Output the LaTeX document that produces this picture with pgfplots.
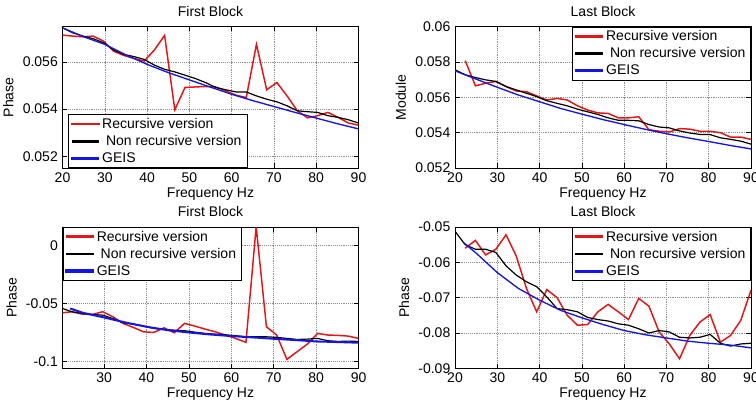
\documentclass[border=0pt]{standalone}
\usepackage{fontspec}
\setmainfont{Liberation Sans}
\usepackage{pgfplots}
\pgfplotsset{compat=1.18}

\definecolor{mred}{RGB}{230,20,20}
\definecolor{mblue}{RGB}{20,20,230}

\pgfplotsset{
  legend image code/.code={\fill[#1] (0pt,-0.55pt) rectangle (20pt,0.55pt);},
  panel/.style={
    scale only axis,
    width=222pt, height=106pt,
    anchor=south west,
    xmin=20, xmax=90,
    xtick={20,30,...,90},
    grid=major,
    grid style={densely dotted, black!45},
    tick align=inside,
    major tick length=3.5pt,
    tick style={black, thin},
    axis line style={black, thin},
    /pgf/number format/assume math mode=true,
    scaled y ticks=false,
    yticklabel style={/pgf/number format/fixed, /pgf/number format/precision=3},
    tick label style={font=\fontsize{10.5}{12}\selectfont},
    label style={font=\fontsize{10.5}{12}\selectfont},
    title style={font=\fontsize{10.5}{12}\selectfont, yshift=-2pt},
    xlabel={Frequency Hz},
    xlabel style={yshift=3pt},
    clip=true,
    legend style={font=\fontsize{10.5}{11}\selectfont, draw=black,
      inner xsep=2pt, inner ysep=0.8pt,
      nodes={inner ysep=1.9pt}},
    legend cell align=left,
  },
  rec/.style={color=mred, line width=1.1pt},
  nonrec/.style={color=black, line width=0.9pt},
  geis/.style={color=mblue, line width=1pt},
}

\begin{document}
\begin{tikzpicture}
\path[use as bounding box] (0,0) rectangle (567pt,303.75pt);

% top left
\begin{axis}[panel, at={(46.9pt,177.75pt)},
  ymin=0.0515, ymax=0.0575, ytick={0.052,0.054,0.056},
  title={First Block}, ylabel={Phase},
  legend style={at={(0.02,0)}, anchor=south west}]
\addplot[rec] coordinates {
(20,0.05714)(22.41,0.05710)(24.83,0.05707)(27.24,0.05710)(29.66,0.05689)
(32.07,0.05646)(34.48,0.05628)(36.90,0.05615)(39.31,0.05604)(41.72,0.05651)
(44.14,0.05713)(46.55,0.05397)(48.97,0.05492)(51.38,0.05494)(53.79,0.05496)
(56.21,0.05494)(58.62,0.05477)(61.03,0.05459)(63.45,0.05449)(65.86,0.05675)
(68.28,0.05482)(70.69,0.05513)(73.10,0.05456)(75.52,0.05393)(77.93,0.05363)
(80.34,0.05372)(82.76,0.05386)(85.17,0.05365)(87.59,0.05341)(90,0.05332)};
\addlegendentry{Recursive version}
\addplot[nonrec] coordinates {
(20,0.05745)(22.41,0.05724)(24.83,0.05710)(27.24,0.05699)(29.66,0.05682)
(32.07,0.05651)(34.48,0.05632)(36.90,0.05623)(39.31,0.05611)(41.72,0.05587)
(44.14,0.05569)(46.55,0.05558)(48.97,0.05544)(51.38,0.05530)(53.79,0.05513)
(56.21,0.05492)(58.62,0.05482)(61.03,0.05473)(63.45,0.05473)(65.86,0.05456)
(68.28,0.05442)(70.69,0.05431)(73.10,0.05414)(75.52,0.05393)(77.93,0.05389)
(80.34,0.05386)(82.76,0.05372)(85.17,0.05365)(87.59,0.05355)(90,0.05341)};
\addlegendentry{\ Non recursive version}
\addplot[geis] coordinates {
(20,0.05745)(25,0.05707)(30,0.05675)(35,0.05630)(40,0.05590)(45,0.05555)
(50,0.05524)(55,0.05493)(60,0.05463)(65,0.05436)(70,0.05411)(75,0.05386)
(80,0.05362)(85,0.05338)(90,0.05316)};
\addlegendentry{GEIS}
\end{axis}

% top right
\begin{axis}[panel, at={(341.25pt,177.75pt)},
  ymin=0.052, ymax=0.06, ytick={0.052,0.054,...,0.0601},
  title={Last Block}, ylabel={Module},
  legend style={at={(1,1)}, anchor=north east}]
\addplot[rec] coordinates {
(22.41,0.05808)(24.83,0.05665)(27.24,0.05680)(29.66,0.05690)(32.07,0.05661)
(34.48,0.05636)(36.90,0.05632)(39.31,0.05608)(41.72,0.05585)(44.14,0.05594)
(46.55,0.05585)(48.97,0.05552)(51.38,0.05528)(53.79,0.05512)(56.21,0.05509)
(58.62,0.05484)(61.03,0.05484)(63.45,0.05490)(65.86,0.05417)(68.28,0.05408)
(70.69,0.05404)(73.10,0.05423)(75.52,0.05420)(77.93,0.05408)(80.34,0.05408)
(82.76,0.05400)(85.17,0.05375)(87.59,0.05375)(90,0.05362)};
\addlegendentry{Recursive version}
\addplot[nonrec] coordinates {
(20,0.05756)(22.41,0.05728)(24.83,0.05712)(27.24,0.05699)(29.66,0.05690)
(32.07,0.05661)(34.48,0.05642)(36.90,0.05623)(39.31,0.05604)(41.72,0.05581)
(44.14,0.05566)(46.55,0.05552)(48.97,0.05533)(51.38,0.05518)(53.79,0.05503)
(56.21,0.05484)(58.62,0.05470)(61.03,0.05470)(63.45,0.05467)(65.86,0.05446)
(68.28,0.05432)(70.69,0.05427)(73.10,0.05410)(75.52,0.05398)(77.93,0.05390)
(80.34,0.05389)(82.76,0.05371)(85.17,0.05362)(87.59,0.05352)(90,0.05335)};
\addlegendentry{\ Non recursive version}
\addplot[geis] coordinates {
(20,0.05750)(25,0.05703)(30,0.05657)(35,0.05613)(40,0.05575)(45,0.05537)
(50,0.05505)(55,0.05474)(60,0.05446)(65,0.05419)(70,0.05394)(75,0.05371)
(80,0.05350)(85,0.05328)(90,0.05308)};
\addlegendentry{GEIS}
\end{axis}

% bottom left
\begin{axis}[panel, at={(46.9pt,27.5pt)},
  xmin=20.2, ymin=-0.1057, ymax=0.0157, ytick={-0.1,-0.05,0},
  title={First Block}, ylabel={Phase},
  legend style={at={(0,1)}, anchor=north west}]
\addplot[rec] coordinates {
(20.2,-0.0580)(22.41,-0.0571)(24.83,-0.0591)(27.24,-0.0594)(29.66,-0.0571)
(32.07,-0.0614)(34.48,-0.0671)(36.90,-0.0706)(39.31,-0.0743)(41.72,-0.0749)
(44.14,-0.0709)(46.55,-0.0751)(48.97,-0.0671)(51.38,-0.0694)(53.79,-0.0720)
(56.21,-0.0743)(58.62,-0.0771)(61.03,-0.0800)(63.45,-0.0834)(65.86,0.0160)
(68.28,-0.0700)(70.69,-0.0771)(73.10,-0.0980)(75.52,-0.0914)(77.93,-0.0849)
(80.34,-0.0757)(82.76,-0.0771)(85.17,-0.0774)(87.59,-0.0780)(90,-0.0800)};
\addlegendentry{Recursive version}
\addplot[nonrec] coordinates {
(20.2,-0.0543)(22.41,-0.0571)(24.83,-0.0586)(27.24,-0.0594)(29.66,-0.0600)
(32.07,-0.0629)(34.48,-0.0666)(36.90,-0.0677)(39.31,-0.0694)(41.72,-0.0714)
(44.14,-0.0723)(46.55,-0.0729)(48.97,-0.0734)(51.38,-0.0746)(53.79,-0.0757)
(56.21,-0.0763)(58.62,-0.0769)(61.03,-0.0777)(63.45,-0.0786)(65.86,-0.0786)
(68.28,-0.0786)(70.69,-0.0791)(73.10,-0.0800)(75.52,-0.0809)(77.93,-0.0806)
(80.34,-0.0800)(82.76,-0.0820)(85.17,-0.0826)(87.59,-0.0823)(90,-0.0826)};
\addlegendentry{\ Non recursive version}
\addplot[geis, line width=1.5pt] coordinates {
(22,-0.0543)(25,-0.0580)(30,-0.0620)(35,-0.0663)(40,-0.0700)(45,-0.0729)
(50,-0.0749)(55,-0.0766)(60,-0.0780)(65,-0.0791)(70,-0.0803)(75,-0.0814)
(80,-0.0826)(85,-0.0831)(90,-0.0837)};
\addlegendentry{GEIS}
\end{axis}

% bottom right
\begin{axis}[panel, at={(341.25pt,27.5pt)},
  ymin=-0.09, ymax=-0.05, ytick={-0.09,-0.08,...,-0.0499},
  title={Last Block}, ylabel={Phase},
  legend style={at={(1,1)}, anchor=north east}]
\addplot[rec] coordinates {
(22.41,-0.0560)(24.83,-0.0538)(27.24,-0.0579)(29.66,-0.0563)(32.07,-0.0522)
(34.48,-0.0582)(36.90,-0.0674)(39.31,-0.0740)(41.72,-0.0677)(44.14,-0.0700)
(46.55,-0.0750)(48.97,-0.0778)(51.38,-0.0776)(53.79,-0.0740)(56.21,-0.0719)
(58.62,-0.0740)(61.03,-0.0762)(63.45,-0.0702)(65.86,-0.0724)(68.28,-0.0797)
(70.69,-0.0831)(73.10,-0.0873)(75.52,-0.0807)(77.93,-0.0769)(80.34,-0.0748)
(82.76,-0.0826)(85.17,-0.0807)(87.59,-0.0764)(90,-0.0679)};
\addlegendentry{Recursive version}
\addplot[nonrec] coordinates {
(20,-0.0512)(22.41,-0.0550)(24.83,-0.0563)(27.24,-0.0563)(29.66,-0.0572)
(32.07,-0.0610)(34.48,-0.0636)(36.90,-0.0655)(39.31,-0.0669)(41.72,-0.0698)
(44.14,-0.0731)(46.55,-0.0734)(48.97,-0.0740)(51.38,-0.0756)(53.79,-0.0762)
(56.21,-0.0766)(58.62,-0.0774)(61.03,-0.0778)(63.45,-0.0788)(65.86,-0.0800)
(68.28,-0.0793)(70.69,-0.0797)(73.10,-0.0812)(75.52,-0.0814)(77.93,-0.0812)
(80.34,-0.0804)(82.76,-0.0829)(85.17,-0.0837)(87.59,-0.0831)(90,-0.0829)};
\addlegendentry{\ Non recursive version}
\addplot[geis] coordinates {
(22,-0.0544)(25,-0.0574)(30,-0.0629)(35,-0.0674)(40,-0.0707)(45,-0.0736)
(50,-0.0757)(55,-0.0776)(60,-0.0793)(65,-0.0805)(70,-0.0814)(75,-0.0823)
(80,-0.0829)(85,-0.0834)(90,-0.0842)};
\addlegendentry{GEIS}
\end{axis}
\end{tikzpicture}
\end{document}
